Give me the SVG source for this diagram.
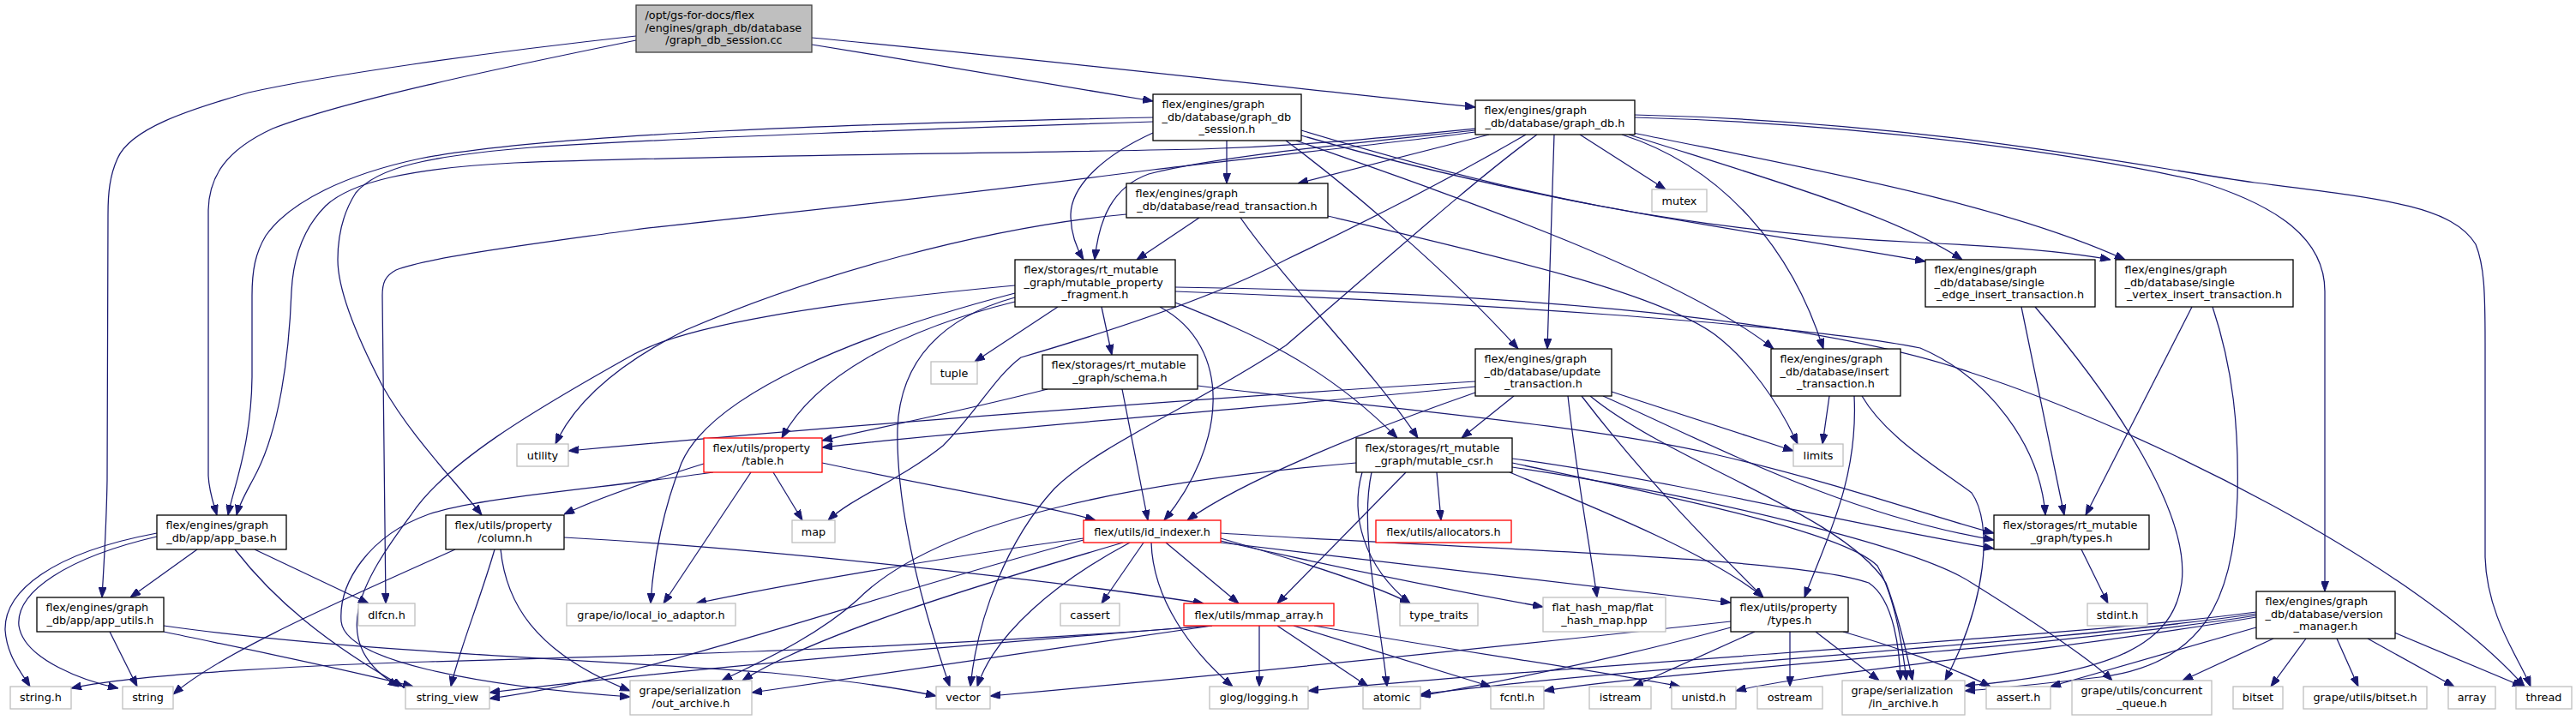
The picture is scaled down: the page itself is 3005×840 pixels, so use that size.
<svg xmlns="http://www.w3.org/2000/svg" width="3005" height="840" viewBox="0 0 3005 840">
<style>
.t{font-family:"DejaVu Sans",sans-serif;font-size:12.8px;fill:#000}
.c{text-anchor:middle}
.n rect{fill:#fff;stroke:#000;stroke-width:1.3}
.l rect{fill:#fff;stroke:#bfbfbf;stroke-width:1.3}
.r rect{fill:#fff;stroke:#ff0000;stroke-width:1.3}
.m rect{fill:#bfbfbf;stroke:#404040;stroke-width:1.3}
#edges path{fill:none;stroke:#191970;stroke-width:1.25;marker-end:url(#a)}
</style>
<defs>
<marker id="a" markerWidth="12" markerHeight="9" refX="12" refY="4.5" orient="auto" markerUnits="userSpaceOnUse"><path d="M0,0 L12,4.5 L0,9 z" fill="#191970" stroke="#191970" stroke-width="1"/></marker>
</defs>
<rect x="0" y="0" width="3005" height="840" fill="#fff"/>
<g id="edges">
<path d="M947,52 C1090,75 1240,100 1345,118"/>
<path d="M947,44 C1200,68 1480,100 1721,125"/>
<path d="M742,42 C560,62 380,88 290,108 C220,128 152,150 137,185 C128,205 126,225 126,250 L125,560 C124,620 121,660 119,697"/>
<path d="M742,47 C580,80 400,118 318,150 C264,175 244,205 243,245 L243,555 C244,575 250,590 253,601"/>
<path d="M1345,137 C1000,144 640,156 490,185 C405,203 338,235 310,275 C298,295 294,315 294,345 L294,440 C293,520 272,570 266,601"/>
<path d="M1345,142 C1100,150 800,160 620,172 C500,182 440,195 415,225 C399,250 394,275 394,303 C394,340 420,400 446,450 C480,510 530,560 562,601"/>
<path d="M1721,150 C1600,162 1520,170 1400,174 C1100,180 800,182 600,190 C480,196 410,212 380,240 C355,265 342,300 340,340 C337,420 325,500 300,550 C290,570 280,585 276,601"/>
<path d="M1431,164 L1431,214"/>
<path d="M1345,155 C1290,180 1250,215 1249,250 C1249,272 1256,290 1264,303"/>
<path d="M1721,152 C1600,165 1420,182 1340,203 C1298,218 1282,255 1277,303"/>
<path d="M1399,254 L1326,303"/>
<path d="M1737,157 L1514,214"/>
<path d="M1721,154 C1600,170 1450,185 1345,198 C1100,230 850,255 740,268 C620,285 500,300 462,315 C449,322 446,330 446,345 L450,704"/>
<path d="M1314,250 C1150,265 950,320 800,385 C720,425 670,470 648,518"/>
<path d="M1813,157 L1805,407"/>
<path d="M1500,164 C1565,212 1685,312 1771,407"/>
<path d="M1512,164 C1700,230 1960,320 2069,407"/>
<path d="M1892,157 C2010,195 2090,290 2127,407"/>
<path d="M1518,158 C1800,240 2050,270 2246,305"/>
<path d="M1518,152 C1760,225 1960,270 2240,283 C2350,288 2420,295 2462,303"/>
<path d="M1900,157 C2050,205 2210,250 2289,303"/>
<path d="M1905,155 C2100,195 2330,235 2479,303"/>
<path d="M1907,137 C2200,145 2450,185 2560,210 C2660,240 2712,280 2712,340 L2712,690"/>
<path d="M1907,134 C2250,142 2500,195 2630,213 C2780,232 2860,240 2888,285 C2898,310 2899,340 2899,400 L2899,650 C2901,720 2940,770 2952,801"/>
<path d="M1843,157 L1943,221"/>
<path d="M1780,157 C1680,215 1580,265 1500,303 C1420,345 1300,385 1191,417 C1160,440 1140,480 1100,520 C1050,560 995,580 966,607"/>
<path d="M1793,157 C1720,210 1620,300 1500,403 C1400,470 1280,520 1230,570 C1175,630 1140,720 1132,801"/>
<path d="M1234,358 L1137,422"/>
<path d="M1285,358 L1297,414"/>
<path d="M1184,352 C1050,385 950,440 912,511"/>
<path d="M1184,347 C1100,370 1050,420 1047,500 C1045,600 1080,720 1108,801"/>
<path d="M1184,342 C1000,390 830,460 795,540 C775,590 762,650 759,704"/>
<path d="M1184,333 C950,355 800,380 740,413 C620,480 520,540 480,600 C420,680 380,750 465,801"/>
<path d="M1353,358 C1440,405 1430,520 1358,607"/>
<path d="M1371,353 C1450,385 1540,420 1630,511"/>
<path d="M1371,335 C1700,340 2100,365 2300,435 C2500,500 2820,660 2945,801"/>
<path d="M1371,340 C1700,352 2100,378 2240,406 C2320,440 2380,520 2386,601"/>
<path d="M1222,454 C1120,480 1020,500 959,514"/>
<path d="M1309,454 L1339,607"/>
<path d="M1397,450 C1600,475 1850,495 2000,530 C2150,565 2260,605 2326,622"/>
<path d="M1721,445 C1400,465 1000,495 663,526"/>
<path d="M1721,451 C1450,478 1150,500 959,522"/>
<path d="M1721,458 C1600,500 1450,560 1385,607"/>
<path d="M1766,462 L1705,511"/>
<path d="M1880,457 L2092,526"/>
<path d="M1829,462 C1840,560 1855,640 1863,697"/>
<path d="M1845,462 C1920,560 2000,640 2057,697"/>
<path d="M1870,462 C2000,520 2150,600 2326,630"/>
<path d="M1855,462 C1950,540 2150,600 2200,680 C2215,720 2224,760 2231,794"/>
<path d="M1549,252 C1750,300 1930,340 2000,390 C2040,420 2075,470 2097,518"/>
<path d="M1447,254 C1500,330 1600,430 1654,511"/>
<path d="M2134,462 L2126,518"/>
<path d="M2163,462 C2168,560 2130,630 2105,697"/>
<path d="M2172,462 C2200,510 2260,545 2300,575 C2325,610 2318,700 2269,794"/>
<path d="M2358,358 L2408,601"/>
<path d="M2374,358 C2470,470 2555,600 2545,680 C2535,750 2470,785 2292,800"/>
<path d="M2557,358 L2433,601"/>
<path d="M2581,358 C2605,430 2612,500 2610,580 C2606,700 2570,775 2450,790 C2380,798 2320,804 2292,806"/>
<path d="M2428,641 L2459,704"/>
<path d="M2690,745 L2649,801"/>
<path d="M2726,745 L2751,801"/>
<path d="M2762,745 L2863,801"/>
<path d="M2793,738 L2943,801"/>
<path d="M2652,745 L2546,794"/>
<path d="M2632,732 L2392,801"/>
<path d="M2632,714 C2400,745 1900,770 1526,806"/>
<path d="M2632,716 C2400,750 1900,778 1657,810"/>
<path d="M2632,718 C2400,755 1950,782 1801,806"/>
<path d="M2632,720 C2400,760 2100,786 2025,806"/>
<path d="M2047,737 L1905,801"/>
<path d="M2088,737 L2088,801"/>
<path d="M2118,737 L2192,794"/>
<path d="M2150,737 C2230,760 2290,785 2322,801"/>
<path d="M2019,725 C1700,760 1400,790 1155,812"/>
<path d="M2019,732 C1900,765 1750,795 1657,812"/>
<path d="M1676,551 L1681,607"/>
<path d="M1640,551 L1490,704"/>
<path d="M1589,551 C1575,600 1590,660 1645,704"/>
<path d="M1582,540 C1350,560 1100,600 1000,700 C950,745 880,775 842,794"/>
<path d="M1761,551 C1880,600 2000,650 2057,697"/>
<path d="M1764,540 C1950,580 2150,620 2190,660 C2212,700 2220,760 2224,794"/>
<path d="M1764,545 C2000,580 2240,640 2300,680 C2380,730 2440,770 2464,794"/>
<path d="M1600,551 C1585,620 1610,720 1618,801"/>
<path d="M1764,535 C1950,560 2150,610 2326,640"/>
<path d="M1334,633 L1285,704"/>
<path d="M1343,633 C1345,700 1390,760 1438,801"/>
<path d="M1360,633 L1445,704"/>
<path d="M1424,628 C1500,650 1600,680 1645,704"/>
<path d="M1424,631 C1550,660 1700,690 1800,708"/>
<path d="M1424,633 C1650,660 1900,690 2019,703"/>
<path d="M1424,622 C1700,640 2100,650 2180,680 C2210,700 2216,760 2217,794"/>
<path d="M1264,628 C1100,650 900,685 812,704"/>
<path d="M1310,633 C1150,680 950,740 866,794"/>
<path d="M1318,633 C1230,680 1160,740 1140,801"/>
<path d="M1264,630 C1000,700 760,790 571,815"/>
<path d="M1469,730 L1469,801"/>
<path d="M1490,730 L1596,801"/>
<path d="M1509,730 L1739,801"/>
<path d="M1533,730 C1700,760 1850,780 1960,801"/>
<path d="M1414,730 C1100,755 760,765 500,772 C300,778 140,790 83,803"/>
<path d="M1410,730 C1100,755 800,780 571,808"/>
<path d="M1414,730 L877,808"/>
<path d="M821,541 C760,560 700,580 658,600"/>
<path d="M959,540 C1100,570 1220,590 1278,607"/>
<path d="M902,551 L936,607"/>
<path d="M876,551 L774,704"/>
<path d="M832,551 C700,570 560,580 500,600 C430,625 395,680 398,725 C402,770 550,800 735,813"/>
<path d="M531,641 C400,700 260,760 202,810"/>
<path d="M577,641 C560,700 535,760 526,801"/>
<path d="M584,641 C590,700 620,760 735,806"/>
<path d="M658,627 C900,640 1250,680 1404,704"/>
<path d="M230,641 L152,697"/>
<path d="M297,641 L430,704"/>
<path d="M183,622 C60,645 5,690 6,735 C8,765 25,785 35,801"/>
<path d="M183,626 C80,650 18,690 22,730 C28,770 100,795 138,803"/>
<path d="M274,641 C320,700 380,750 470,801"/>
<path d="M128,737 L160,801"/>
<path d="M191,737 C300,760 400,780 482,801"/>
<path d="M191,730 C400,760 700,770 900,785 C1000,795 1060,805 1092,812"/>
</g>
<g id="n_main" class="m"><rect x="742" y="6" width="205" height="55"/><text class="t" x="752.5" y="22.3">/opt/gs-for-docs/flex</text><text class="t" x="752.5" y="36.8">/engines/graph_db/database</text><text class="t c" x="844.5" y="51.3">/graph_db_session.cc</text></g>
<g id="n_gds" class="n"><rect x="1345" y="110" width="173" height="54"/><text class="t" x="1355.5" y="126.3">flex/engines/graph</text><text class="t" x="1355.5" y="140.8">_db/database/graph_db</text><text class="t c" x="1431.5" y="155.3">_session.h</text></g>
<g id="n_gdb" class="n"><rect x="1721" y="117" width="186" height="40"/><text class="t" x="1731.5" y="133.3">flex/engines/graph</text><text class="t c" x="1814" y="147.8">_db/database/graph_db.h</text></g>
<g id="n_rt" class="n"><rect x="1314" y="214" width="235" height="40"/><text class="t" x="1324.5" y="230.3">flex/engines/graph</text><text class="t c" x="1431.5" y="244.8">_db/database/read_transaction.h</text></g>
<g id="n_mpf" class="n"><rect x="1184" y="303" width="187" height="55"/><text class="t" x="1194.5" y="319.3">flex/storages/rt_mutable</text><text class="t" x="1194.5" y="333.8">_graph/mutable_property</text><text class="t c" x="1277.5" y="348.3">_fragment.h</text></g>
<g id="n_mutex" class="l"><rect x="1927" y="221" width="64" height="26"/><text class="t c" x="1959" y="238.6">mutex</text></g>
<g id="n_seit" class="n"><rect x="2246" y="303" width="198" height="55"/><text class="t" x="2256.5" y="319.3">flex/engines/graph</text><text class="t" x="2256.5" y="333.8">_db/database/single</text><text class="t c" x="2345" y="348.3">_edge_insert_transaction.h</text></g>
<g id="n_svit" class="n"><rect x="2468" y="303" width="207" height="55"/><text class="t" x="2478.5" y="319.3">flex/engines/graph</text><text class="t" x="2478.5" y="333.8">_db/database/single</text><text class="t c" x="2571.5" y="348.3">_vertex_insert_transaction.h</text></g>
<g id="n_tuple" class="l"><rect x="1086" y="422" width="54" height="26"/><text class="t c" x="1113" y="439.6">tuple</text></g>
<g id="n_schema" class="n"><rect x="1216" y="414" width="181" height="40"/><text class="t" x="1226.5" y="430.3">flex/storages/rt_mutable</text><text class="t c" x="1306.5" y="444.8">_graph/schema.h</text></g>
<g id="n_update" class="n"><rect x="1721" y="407" width="159" height="55"/><text class="t" x="1731.5" y="423.3">flex/engines/graph</text><text class="t" x="1731.5" y="437.8">_db/database/update</text><text class="t c" x="1800.5" y="452.3">_transaction.h</text></g>
<g id="n_insert" class="n"><rect x="2066" y="407" width="151" height="55"/><text class="t" x="2076.5" y="423.3">flex/engines/graph</text><text class="t" x="2076.5" y="437.8">_db/database/insert</text><text class="t c" x="2141.5" y="452.3">_transaction.h</text></g>
<g id="n_utility" class="l"><rect x="603" y="518" width="60" height="26"/><text class="t c" x="633" y="535.6">utility</text></g>
<g id="n_table" class="r"><rect x="821" y="511" width="138" height="40"/><text class="t" x="831.5" y="527.3">flex/utils/property</text><text class="t c" x="890" y="541.8">/table.h</text></g>
<g id="n_csr" class="n"><rect x="1582" y="511" width="182" height="40"/><text class="t" x="1592.5" y="527.3">flex/storages/rt_mutable</text><text class="t c" x="1673" y="541.8">_graph/mutable_csr.h</text></g>
<g id="n_limits" class="l"><rect x="2092" y="518" width="58" height="26"/><text class="t c" x="2121" y="535.6">limits</text></g>
<g id="n_app_base" class="n"><rect x="183" y="601" width="151" height="40"/><text class="t" x="193.5" y="617.3">flex/engines/graph</text><text class="t c" x="258.5" y="631.8">_db/app/app_base.h</text></g>
<g id="n_column" class="n"><rect x="520" y="601" width="138" height="40"/><text class="t" x="530.5" y="617.3">flex/utils/property</text><text class="t c" x="589" y="631.8">/column.h</text></g>
<g id="n_map" class="l"><rect x="924" y="607" width="50" height="26"/><text class="t c" x="949" y="624.6">map</text></g>
<g id="n_idx" class="r"><rect x="1264" y="607" width="160" height="26"/><text class="t c" x="1344" y="624.6">flex/utils/id_indexer.h</text></g>
<g id="n_alloc" class="r"><rect x="1605" y="607" width="158" height="26"/><text class="t c" x="1684" y="624.6">flex/utils/allocators.h</text></g>
<g id="n_rtypes" class="n"><rect x="2326" y="601" width="181" height="40"/><text class="t" x="2336.5" y="617.3">flex/storages/rt_mutable</text><text class="t c" x="2416.5" y="631.8">_graph/types.h</text></g>
<g id="n_app_utils" class="n"><rect x="43" y="697" width="148" height="40"/><text class="t" x="53.5" y="713.3">flex/engines/graph</text><text class="t c" x="117" y="727.8">_db/app/app_utils.h</text></g>
<g id="n_dlfcn" class="l"><rect x="418" y="704" width="66" height="26"/><text class="t c" x="451" y="721.6">dlfcn.h</text></g>
<g id="n_lio" class="l"><rect x="661" y="704" width="197" height="26"/><text class="t c" x="759.5" y="721.6">grape/io/local_io_adaptor.h</text></g>
<g id="n_cassert" class="l"><rect x="1237" y="704" width="69" height="26"/><text class="t c" x="1271.5" y="721.6">cassert</text></g>
<g id="n_mmap" class="r"><rect x="1381" y="704" width="175" height="26"/><text class="t c" x="1468.5" y="721.6">flex/utils/mmap_array.h</text></g>
<g id="n_type_traits" class="l"><rect x="1633" y="704" width="91" height="26"/><text class="t c" x="1678.5" y="721.6">type_traits</text></g>
<g id="n_fhm" class="l"><rect x="1800" y="697" width="143" height="40"/><text class="t" x="1810.5" y="713.3">flat_hash_map/flat</text><text class="t c" x="1871.5" y="727.8">_hash_map.hpp</text></g>
<g id="n_ptypes" class="n"><rect x="2019" y="697" width="137" height="40"/><text class="t" x="2029.5" y="713.3">flex/utils/property</text><text class="t c" x="2087.5" y="727.8">/types.h</text></g>
<g id="n_stdint" class="l"><rect x="2435" y="704" width="70" height="26"/><text class="t c" x="2470" y="721.6">stdint.h</text></g>
<g id="n_vm" class="n"><rect x="2632" y="690" width="162" height="55"/><text class="t" x="2642.5" y="706.3">flex/engines/graph</text><text class="t" x="2642.5" y="720.8">_db/database/version</text><text class="t c" x="2713" y="735.3">_manager.h</text></g>
<g id="n_string_h" class="l"><rect x="12" y="801" width="71" height="26"/><text class="t c" x="47.5" y="818">string.h</text></g>
<g id="n_string" class="l"><rect x="143" y="801" width="59" height="26"/><text class="t c" x="172.5" y="818">string</text></g>
<g id="n_string_view" class="l"><rect x="473" y="801" width="98" height="26"/><text class="t c" x="522" y="818">string_view</text></g>
<g id="n_out_archive" class="l"><rect x="735" y="794" width="142" height="40"/><text class="t" x="745.5" y="810.3">grape/serialization</text><text class="t c" x="806" y="824.8">/out_archive.h</text></g>
<g id="n_vector" class="l"><rect x="1092" y="801" width="63" height="26"/><text class="t c" x="1123.5" y="818">vector</text></g>
<g id="n_glog" class="l"><rect x="1411" y="801" width="115" height="26"/><text class="t c" x="1468.5" y="818">glog/logging.h</text></g>
<g id="n_atomic" class="l"><rect x="1590" y="801" width="67" height="26"/><text class="t c" x="1623.5" y="818">atomic</text></g>
<g id="n_fcntl" class="l"><rect x="1739" y="801" width="62" height="26"/><text class="t c" x="1770" y="818">fcntl.h</text></g>
<g id="n_istream" class="l"><rect x="1854" y="801" width="72" height="26"/><text class="t c" x="1890" y="818">istream</text></g>
<g id="n_unistd" class="l"><rect x="1950" y="801" width="75" height="26"/><text class="t c" x="1987.5" y="818">unistd.h</text></g>
<g id="n_ostream" class="l"><rect x="2050" y="801" width="76" height="26"/><text class="t c" x="2088" y="818">ostream</text></g>
<g id="n_in_archive" class="l"><rect x="2149" y="794" width="143" height="40"/><text class="t" x="2159.5" y="810.3">grape/serialization</text><text class="t c" x="2220.5" y="824.8">/in_archive.h</text></g>
<g id="n_assert" class="l"><rect x="2317" y="801" width="75" height="26"/><text class="t c" x="2354.5" y="818">assert.h</text></g>
<g id="n_cqueue" class="l"><rect x="2417" y="794" width="163" height="40"/><text class="t" x="2427.5" y="810.3">grape/utils/concurrent</text><text class="t c" x="2498.5" y="824.8">_queue.h</text></g>
<g id="n_bitset" class="l"><rect x="2605" y="801" width="58" height="26"/><text class="t c" x="2634" y="818">bitset</text></g>
<g id="n_gbitset" class="l"><rect x="2687" y="801" width="144" height="26"/><text class="t c" x="2759" y="818">grape/utils/bitset.h</text></g>
<g id="n_array" class="l"><rect x="2856" y="801" width="55" height="26"/><text class="t c" x="2883.5" y="818">array</text></g>
<g id="n_thread" class="l"><rect x="2935" y="801" width="65" height="26"/><text class="t c" x="2967.5" y="818">thread</text></g>
</svg>
